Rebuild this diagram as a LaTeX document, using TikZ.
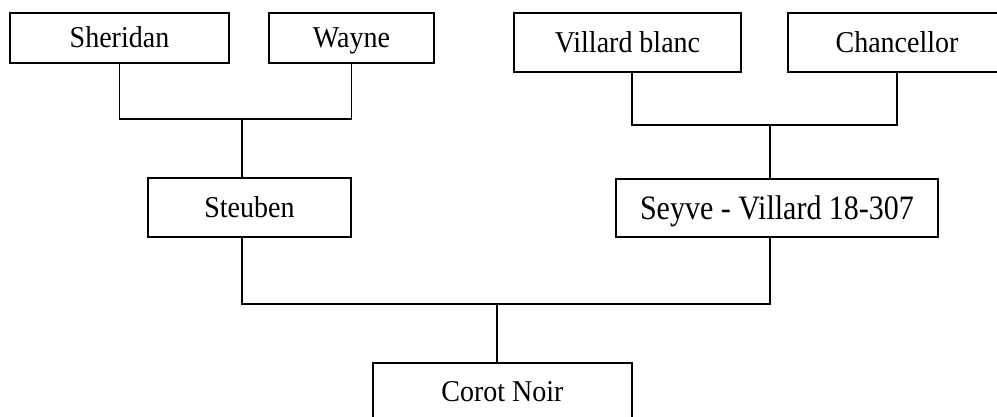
\documentclass[tikz,border=0pt]{standalone}
\usepackage{fontspec}
\setmainfont{Liberation Serif}
\newcommand\stretchtxt[2][1.08]{\scalebox{1}[#1]{#2}}
\begin{document}
\begin{tikzpicture}[x=1pt,y=-1pt,
  txt/.style={inner sep=0pt, anchor=center,
    font=\fontsize{28}{30}\selectfont, text height=20pt, text depth=0pt},
  box/.style={txt, draw, line width=1.8pt},
  link/.style={line width=1.7pt}]
\useasboundingbox (0,0) rectangle (997,417);
% top generation
\node[box, minimum width=219pt, minimum height=50pt] (sh) at (119.5,38) {\stretchtxt{Sheridan}};
\node[box, minimum width=165pt, minimum height=50pt] (wa) at (351.5,38) {\stretchtxt{Wayne}};
\node[box, minimum width=227pt, minimum height=59pt] (vb) at (627.5,42.5) {\stretchtxt{Villard blanc}};
\node[box, minimum width=250pt, minimum height=59pt] (ch) at (913,42.5) {};
\node[txt] (cht) at ([xshift=-16pt]ch.center) {\stretchtxt{Chancellor}};
% middle generation
\node[box, minimum width=203pt, minimum height=59pt] (st) at (249.5,207.5) {\stretchtxt{Steuben}};
\node[box, minimum width=322pt, minimum height=58pt, font=\fontsize{30}{32}\selectfont, text height=24pt] (sv) at (777,208)
  {\stretchtxt[1.14]{Seyve - Villard 18-307}};
% bottom
\node[box, minimum width=259pt, minimum height=56pt] (co) at (502.5,391) {\stretchtxt{Corot Noir}};
% junctions
\coordinate (j1) at (242,119);
\coordinate (j2) at (770,125);
\coordinate (j3) at (497,304);
\draw[link] (sh.south) -- (sh.south |- j1) -- (wa.south |- j1) -- (wa.south);
\draw[link] (j1) -- (j1 |- st.north);
\draw[link] ([xshift=4.5pt]vb.south) -- ([xshift=4.5pt]vb.south |- j2) -- ([xshift=-16pt]ch.south |- j2) -- ([xshift=-16pt]ch.south);
\draw[link] (j2) -- (j2 |- sv.north);
\draw[link] (j1 |- st.south) -- (j1 |- j3) -- (j2 |- j3) -- (j2 |- sv.south);
\draw[link] (j3) -- (j3 |- co.north);
\end{tikzpicture}
\end{document}
